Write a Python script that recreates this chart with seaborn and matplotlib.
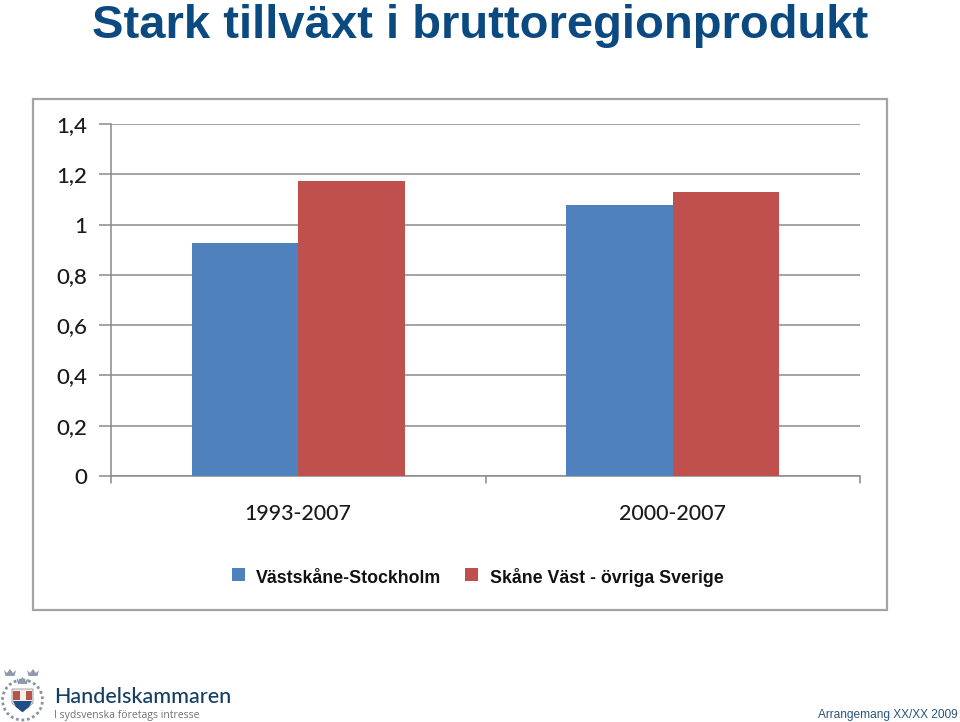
import matplotlib
matplotlib.use("Agg")
import matplotlib.pyplot as plt
from matplotlib.patches import Rectangle, Circle, Polygon
import pandas as pd
import seaborn as sns

periods = ["1993-2007", "2000-2007"]
series_names = ["Västskåne-Stockholm", "Skåne Väst - övriga Sverige"]
vastskane = [0.925, 1.078]
skane_vast = [1.173, 1.128]
y_ticks = [0, 0.2, 0.4, 0.6, 0.8, 1, 1.2, 1.4]
y_labels = ["0", "0,2", "0,4", "0,6", "0,8", "1", "1,2", "1,4"]
colors = ["#4f81bd", "#c0504d"]

W, H = 960, 722
def fx(px): return px / W
def fy(py): return 1 - py / H

sns.set_theme(style="white")
plt.rcParams["font.family"] = ["Lato", "DejaVu Sans"]

df = pd.DataFrame({
    "period": periods * 2,
    "value": vastskane + skane_vast,
    "series": [series_names[0]] * 2 + [series_names[1]] * 2,
})

fig = plt.figure(figsize=(W / 100, H / 100), dpi=100, facecolor="white")
fig.add_artist(Rectangle((fx(33), fy(610)), fx(854), 511 / H, transform=fig.transFigure,
                         fill=False, edgecolor="#a3a3a3", linewidth=1.6))

ax = fig.add_axes([fx(111), fy(476), fx(749), 352 / H])
sns.barplot(data=df, x="period", y="value", hue="series", palette=colors, width=0.57,
            gap=0, saturation=1, legend=False, ax=ax, zorder=3, linewidth=0)
ax.set_xlim(-0.5, 1.5)
ax.set_ylim(0, 1.4)
ax.set_xlabel("")
ax.set_ylabel("")
ax.set_yticks(y_ticks, y_labels)
ax.set_xticks([0, 1], periods)
ax.grid(axis="y", color="#8a8a8a", linewidth=1.1, zorder=0)
ax.grid(axis="x", visible=False)
for s in ["top", "right"]:
    ax.spines[s].set_visible(False)
for s in ["left", "bottom"]:
    ax.spines[s].set_color("#8a8a8a")
    ax.spines[s].set_linewidth(1.1)
ax.tick_params(axis="y", left=True, length=9, width=1.1, color="#8a8a8a", pad=8,
               labelsize=16, labelcolor="#1a1a1a")
ax.tick_params(axis="x", bottom=False, pad=14, labelsize=15.4, labelcolor="#1a1a1a")
for lab in ax.get_xticklabels() + ax.get_yticklabels():
    lab.set_fontweight("medium")
for edge in (-0.5, 0.5, 1.5):
    ax.plot([edge, edge], [0, -0.028], color="#8a8a8a", lw=1.1, clip_on=False, zorder=2)

fig.text(fx(92), fy(37.5), "Stark tillväxt i bruttoregionprodukt", family="Liberation Sans",
         fontweight="bold", fontsize=33.9, color="#0b4a80", ha="left", va="baseline")

for x0, name, col, tx in [(232, series_names[0], colors[0], 256), (465, series_names[1], colors[1], 490)]:
    fig.add_artist(Rectangle((fx(x0), fy(581)), fx(13), 13 / H, transform=fig.transFigure,
                             facecolor=col, edgecolor="none"))
    fig.text(fx(tx), fy(583), name, family="Liberation Sans", fontweight="bold",
             fontsize=12.75, color="#111111", ha="left", va="baseline")

fig.text(fx(958), fy(718), "Arrangemang XX/XX 2009", family="Liberation Sans",
         fontsize=8.6, color="#2a5578", ha="right", va="baseline")
fig.text(fx(54), fy(703), "Handelskammaren", family="Lato", fontsize=15.5, fontweight="medium",
         color="#143e66", ha="left", va="baseline")
fig.text(fx(54), fy(718), "I sydsvenska företags intresse", family="Open Sans", fontsize=7.5,
         color="#6d7378", ha="left", va="baseline")

logo = fig.add_axes([fx(0), fy(722), fx(48), 56 / H])
logo.set_xlim(0, 48); logo.set_ylim(56, 0); logo.axis("off"); logo.set_aspect("equal")
logo.add_patch(Circle((22.5, 34), 20, fill=False, edgecolor="#8a94a3", lw=2, linestyle=(0, (1, 1))))
for cx, cy in [(10, 7), (33, 7), (22.5, 15)]:
    logo.add_patch(Polygon([(cx - 6, cy - 3), (cx - 3, cy), (cx, cy - 4), (cx + 3, cy), (cx + 6, cy - 3),
                            (cx + 4.5, cy + 3), (cx - 4.5, cy + 3)], facecolor="#8e9cae", edgecolor="none"))
logo.add_patch(Polygon([(12, 23), (33, 23), (33, 37), (22.5, 46), (12, 37)], facecolor="#f3f0ec", edgecolor="#7a7f88", lw=0.5))
logo.add_patch(Rectangle((13, 25), 6.5, 9, facecolor="#b9524a", edgecolor="none"))
logo.add_patch(Rectangle((25.5, 25), 6.5, 9, facecolor="#b9524a", edgecolor="none"))
logo.add_patch(Polygon([(13, 35), (32, 35), (29, 41), (22.5, 46), (16, 41)], facecolor="#1e4f84", edgecolor="none"))

fig.savefig("out.png", dpi=100, facecolor="white")
